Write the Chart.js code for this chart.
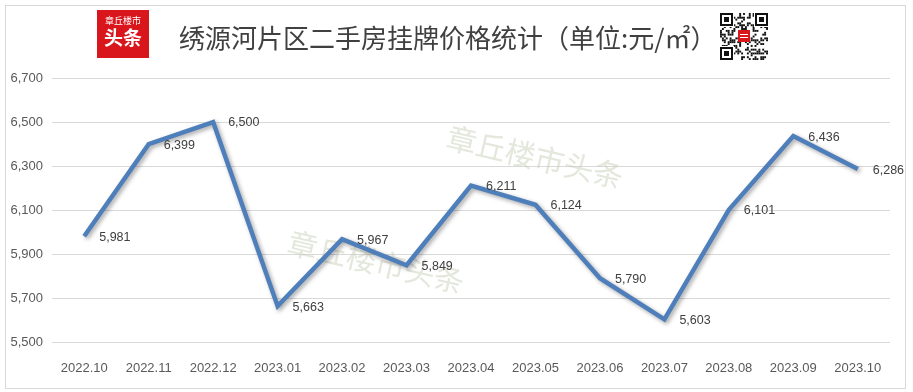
<!DOCTYPE html>
<html lang="zh">
<head>
    <meta charset="UTF-8">
    <title>绣源河片区二手房挂牌价格统计</title>
    <script src="https://cdn.jsdelivr.net/npm/chart.js"></script>
    <style>
        body, html {
            margin: 0;
            padding: 0;
            background-color: #ffffff;
        }
        .wrap {
            position: relative;
            width: 913px;
            height: 392px;
            overflow: hidden;
        }
        .frame {
            position: absolute;
            left: 5px;
            top: 5px;
            width: 899px;
            height: 382px;
            border: 1px solid #d9d9d9;
            pointer-events: none;
        }
        #priceChart {
            position: absolute;
            left: 0;
            top: 0;
        }
        .logo {
            position: absolute;
            left: 97px;
            top: 10px;
            width: 52px;
            height: 48px;
            background-color: #d9161c;
            color: #ffffff;
            text-align: center;
            font-family: "Noto Sans CJK SC", sans-serif;
        }
        .logo .small {
            font-size: 9px;
            line-height: 10px;
            margin-top: 6px;
        }
        .logo .big {
            font-size: 19px;
            line-height: 22px;
            font-weight: bold;
        }
        .title {
            position: absolute;
            left: 179px;
            top: 19px;
            font-family: "Noto Sans CJK SC", sans-serif;
            font-size: 26px;
            line-height: 36px;
            color: #404040;
            white-space: nowrap;
        }
        #qr {
            position: absolute;
            left: 720px;
            top: 13px;
        }
    </style>
</head>
<body>
    <div class="wrap">
        <canvas id="priceChart" width="913" height="392"></canvas>
        <div class="frame"></div>
        <div class="logo">
            <div class="small">章丘楼市</div>
            <div class="big">头条</div>
        </div>
        <div class="title">绣源河片区二手房挂牌价格统计（单位:元/㎡）</div>
        <canvas id="qr" width="48" height="47"></canvas>
    </div>

    <script>
        // data
        const months = ['2022.10', '2022.11', '2022.12', '2023.01', '2023.02', '2023.03', '2023.04',
                        '2023.05', '2023.06', '2023.07', '2023.08', '2023.09', '2023.10'];
        const prices = [5981, 6399, 6500, 5663, 5967, 5849, 6211, 6124, 5790, 5603, 6101, 6436, 6286];
        const yMin = 5500;
        const yMax = 6700;
        const yStep = 200;
        const watermarkText = '章丘楼市头条';

        // soft shadow under the line, like the Excel original
        const lineShadow = {
            id: 'lineShadow',
            beforeDatasetDraw(chart) {
                const c = chart.ctx;
                c.save();
                c.shadowColor = 'rgba(0, 0, 0, 0.35)';
                c.shadowBlur = 4;
                c.shadowOffsetX = 2;
                c.shadowOffsetY = 2;
            },
            afterDatasetDraw(chart) {
                chart.ctx.restore();
            }
        };

        // faint diagonal watermark text behind the line
        const watermark = {
            id: 'watermark',
            beforeDatasetsDraw(chart) {
                const c = chart.ctx;
                const spots = [[535, 157], [376, 262]];
                c.save();
                c.font = '30px "Noto Sans CJK SC", serif';
                c.fillStyle = 'rgba(200, 208, 186, 0.5)';
                c.textAlign = 'center';
                c.textBaseline = 'middle';
                spots.forEach(([x, y]) => {
                    c.save();
                    c.translate(x, y);
                    c.rotate(13 * Math.PI / 180);
                    c.fillText(watermarkText, 0, 0);
                    c.restore();
                });
                c.restore();
            }
        };

        // value labels to the right of each point
        const valueLabels = {
            id: 'valueLabels',
            afterDatasetsDraw(chart) {
                const c = chart.ctx;
                const meta = chart.getDatasetMeta(0);
                c.save();
                c.font = '12.5px "Liberation Sans", Arial, sans-serif';
                c.fillStyle = '#404040';
                c.textAlign = 'left';
                c.textBaseline = 'middle';
                meta.data.forEach((pt, i) => {
                    c.fillText(prices[i].toLocaleString('en-US'), pt.x + 15, pt.y + 1);
                });
                c.restore();
            }
        };

        const ctx = document.getElementById('priceChart').getContext('2d');
        const priceChart = new Chart(ctx, {
            type: 'line',
            data: {
                labels: months,
                datasets: [{
                    data: prices,
                    borderColor: '#4f7fbb',
                    borderWidth: 4.5,
                    pointRadius: 0,
                    pointHoverRadius: 0,
                    tension: 0,
                    fill: false,
                    borderJoinStyle: 'miter'
                }]
            },
            options: {
                responsive: false,
                animation: false,
                layout: {
                    padding: { top: 78, right: 23, bottom: 0, left: 0 }
                },
                scales: {
                    x: {
                        offset: true,
                        grid: { display: false },
                        border: { display: false },
                        ticks: {
                            color: '#595959',
                            padding: 11,
                            maxRotation: 0,
                            font: { family: '"Liberation Sans", Arial, sans-serif', size: 13 }
                        },
                        afterFit(scale) { scale.height = 50; }
                    },
                    y: {
                        min: yMin,
                        max: yMax,
                        grid: { color: '#d9d9d9', lineWidth: 1, drawTicks: false },
                        border: { display: false },
                        ticks: {
                            stepSize: yStep,
                            color: '#595959',
                            padding: 9,
                            font: { family: '"Liberation Sans", Arial, sans-serif', size: 13 },
                            callback: v => v.toLocaleString('en-US')
                        },
                        afterFit(scale) { scale.width = 52; }
                    }
                },
                plugins: {
                    legend: { display: false },
                    tooltip: { enabled: false }
                }
            },
            plugins: [watermark, lineShadow, valueLabels]
        });

        // small QR-style decoration in the header
        const qr = document.getElementById('qr').getContext('2d');
        const n = 25, cell = 48 / n;
        qr.fillStyle = '#ffffff';
        qr.fillRect(0, 0, 48, 47);
        qr.fillStyle = '#111111';
        for (let i = 0; i < n; i++) {
            for (let j = 0; j < n; j++) {
                if (((i * 7 + j * 13) ^ (i * j + 3)) % 3 === 0) {
                    qr.fillRect(j * cell, i * cell * 47 / 48, cell, cell);
                }
            }
        }
        function finder(x, y) {
            qr.fillStyle = '#ffffff';
            qr.fillRect(x - 1, y - 1, 15, 15);
            qr.fillStyle = '#111111';
            qr.fillRect(x, y, 13, 13);
            qr.fillStyle = '#ffffff';
            qr.fillRect(x + 2, y + 2, 9, 9);
            qr.fillStyle = '#111111';
            qr.fillRect(x + 4, y + 4, 5, 5);
        }
        finder(0, 0);
        finder(35, 0);
        finder(0, 34);
        qr.fillStyle = '#d9161c';
        qr.fillRect(18, 17, 12, 12);
        qr.fillStyle = '#ffffff';
        qr.fillRect(20, 21, 8, 1);
        qr.fillRect(20, 24, 8, 1);
    </script>
</body>
</html>
